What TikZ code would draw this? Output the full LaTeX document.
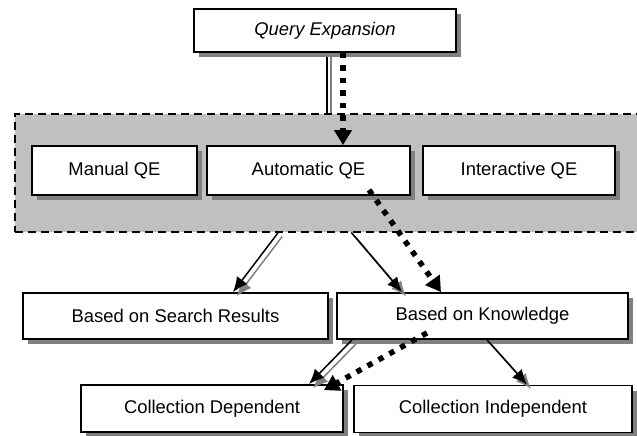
\documentclass[tikz,border=0pt]{standalone}
\usepackage{fontspec}
\setmainfont{Liberation Sans}
\usetikzlibrary{arrows.meta,shadows}
\definecolor{shgray}{HTML}{808080}
\definecolor{grpfill}{HTML}{C0C0C0}
\begin{document}
\begin{tikzpicture}[x=1pt,y=-1pt,
  box/.style={draw=black, line width=1.8pt, fill=white, inner sep=0pt,
    font=\fontsize{18.4}{22}\selectfont,
    drop shadow={shadow xshift=5pt, shadow yshift=-5pt, fill=shgray, opacity=1}},
  grpbox/.style={draw=black, line width=1.5pt, dash pattern=on 8pt off 5pt, fill=grpfill, inner sep=0pt},
  conn/.style={line width=1.5pt, -{Latex[length=15pt,width=13pt]}},
  connsh/.style={conn, draw=shgray, transform canvas={shift={(4pt,-4pt)}}},
  plainsh/.style={line width=1.5pt, draw=shgray},
  dotarrow/.style={line width=5.5pt, dash pattern=on 5.5pt off 7pt, -{Triangle[length=15pt,width=17pt]}}
]
\useasboundingbox (0,0) rectangle (637,436);
% grouping region
\node[grpbox, minimum width=626pt, minimum height=118pt, anchor=north west] (grp) at (14,113) {};
% top box
\node[box, minimum width=262pt, minimum height=43pt, font=\fontsize{18.4}{22}\selectfont\itshape] (qe) at (325,30.5) {Query Expansion};
% line from top box to region (behind shadows)
\draw[plainsh] ([xshift=6pt]qe.south) -- ([xshift=6pt]qe.south |- grp.north);
\draw[line width=1.5pt] ([xshift=2pt]qe.south) -- ([xshift=2pt]qe.south |- grp.north);
% redraw top box over line
\node[box, minimum width=262pt, minimum height=43pt, font=\fontsize{18.4}{22}\selectfont\itshape] (qe) at (325,30.5) {Query Expansion};
% boxes inside region
\node[box, minimum width=165pt, minimum height=49pt] (manual) at (114.5,170.5) {Manual QE};
\node[box, minimum width=203pt, minimum height=49pt] (auto) at (308.5,170.5) {Automatic QE};
\node[box, minimum width=192pt, minimum height=49pt] (inter) at (519,170.5) {Interactive QE};
% second level
\node[box, minimum width=305pt, minimum height=46pt] (bsr) at (175.5,316) {Based on Search Results};
\node[box, minimum width=291pt, minimum height=46pt] (bok) at (482.5,316) {Based on Knowledge};
% third level
\node[box, minimum width=262pt, minimum height=47pt] (cd) at (212,408.5) {Collection Dependent};
\node[box, minimum width=278pt, minimum height=47pt] (ci) at (493,409) {Collection Independent};
% solid arrows with shadows
\draw[connsh] ([xshift=-49.5pt]grp.south) -- ([xshift=57.5pt]bsr.north);
\draw[conn] ([xshift=-49.5pt]grp.south) -- ([xshift=57.5pt]bsr.north);
\draw[connsh] ([xshift=23.5pt]grp.south) -- ([xshift=-80.5pt]bok.north);
\draw[conn] ([xshift=23.5pt]grp.south) -- ([xshift=-80.5pt]bok.north);
\draw[connsh] ([xshift=-130.5pt]bok.south) -- ([xshift=97pt]cd.north);
\draw[conn] ([xshift=-130.5pt]bok.south) -- ([xshift=97pt]cd.north);
\draw[connsh] ([xshift=4.5pt]bok.south) -- ([xshift=34pt]ci.north);
\draw[conn] ([xshift=4.5pt]bok.south) -- ([xshift=34pt]ci.north);
% dotted path arrows
\draw[dotarrow] ([xshift=18pt]qe.south) -- ([xshift=18pt]qe.south |- auto.north);
\draw[dotarrow] ([xshift=60.5pt,yshift=6pt]auto.south) -- ([xshift=-41.5pt]bok.north);
\draw[dotarrow] ([xshift=-55.5pt,yshift=7pt]bok.south) -- ([xshift=112pt,yshift=-6pt]cd.north);
\end{tikzpicture}
\end{document}
